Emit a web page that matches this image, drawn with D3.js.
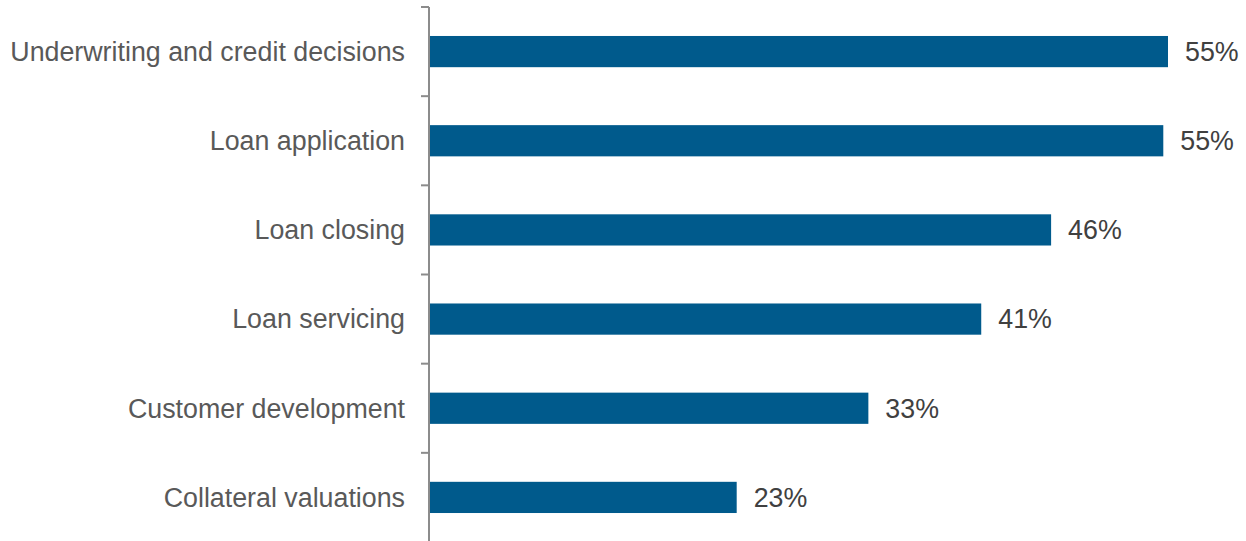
<!DOCTYPE html>
<html>
<head>
<meta charset="utf-8">
<script src="https://cdn.jsdelivr.net/npm/d3@7"></script>
<style>
  html, body { margin: 0; padding: 0; background: #ffffff; }
  svg { display: block; }
  text { font-family: "Liberation Sans", Arial, sans-serif; }
</style>
</head>
<body>
<svg id="chart" width="1246" height="541"></svg>
<script>
// Share of respondents by loan process stage
const categories = [
  "Underwriting and credit decisions",
  "Loan application",
  "Loan closing",
  "Loan servicing",
  "Customer development",
  "Collateral valuations"
];
const values = [55.0, 54.65, 46.3, 41.1, 32.7, 22.9];

const width = 1246, height = 541;
const svg = d3.select("#chart");

const axisX = 429;
const y = d3.scaleBand()
  .domain(categories)
  .range([7, 542])
  .paddingInner(0.65)
  .paddingOuter(0.325);

const x = d3.scaleLinear()
  .domain([0, 55])
  .range([axisX, 1168]);

// Bars
svg.append("g")
  .selectAll("rect")
  .data(categories)
  .join("rect")
  .attr("x", x(0))
  .attr("y", d => y(d))
  .attr("width", (d, i) => x(values[i]) - x(0))
  .attr("height", y.bandwidth())
  .attr("fill", "#005a8c");

// Category axis with ticks between bands
const step = y.step();
const bandTop = y.range()[0];
const axisG = svg.append("g").attr("stroke", "#8c8c8c").attr("stroke-width", 2);
axisG.append("line")
  .attr("x1", axisX).attr("x2", axisX)
  .attr("y1", bandTop).attr("y2", height);
axisG.selectAll("line.tick")
  .data(d3.range(categories.length + 1))
  .join("line")
  .attr("class", "tick")
  .attr("x1", axisX - 8).attr("x2", axisX)
  .attr("y1", i => bandTop + i * step)
  .attr("y2", i => bandTop + i * step);

// Category labels
svg.append("g")
  .selectAll("text")
  .data(categories)
  .join("text")
  .attr("x", 405)
  .attr("y", d => y(d) + y.bandwidth() / 2)
  .attr("dy", "0.35em")
  .attr("text-anchor", "end")
  .attr("font-size", 26.8)
  .attr("fill", "#595959")
  .text(d => d);

// Value labels
svg.append("g")
  .selectAll("text")
  .data(categories)
  .join("text")
  .attr("x", (d, i) => x(values[i]) + 17)
  .attr("y", d => y(d) + y.bandwidth() / 2)
  .attr("dy", "0.35em")
  .attr("font-size", 26.8)
  .attr("fill", "#404040")
  .text((d, i) => Math.round(values[i]) + "%");
</script>
</body>
</html>
